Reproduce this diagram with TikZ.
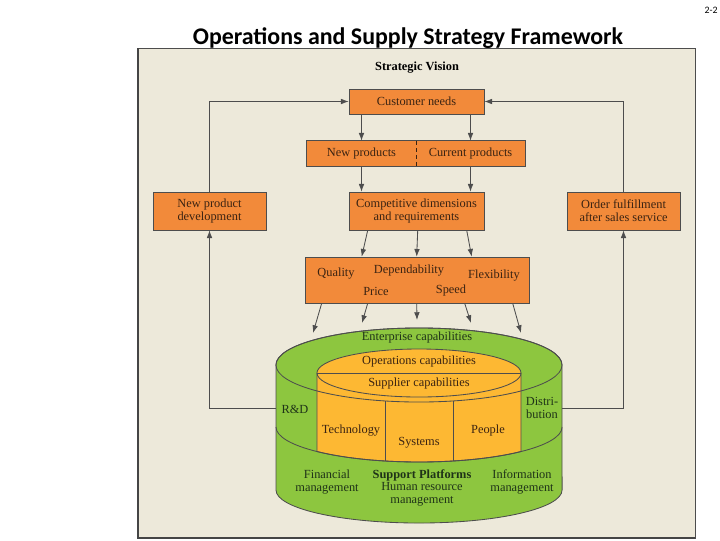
\documentclass[tikz,border=0pt]{standalone}
\usepackage{fontspec}
\setmainfont{Liberation Serif}
\newfontfamily\slidefont{Carlito}
\usepackage{tikz}
\usetikzlibrary{arrows.meta, calc, positioning}

\definecolor{panelbg}{HTML}{EDE9DA}
\definecolor{boxorange}{HTML}{F28A3A}
\definecolor{capyellow}{HTML}{FDB833}
\definecolor{capgreen}{HTML}{8DC63F}
\definecolor{boxtext}{HTML}{3A2312}
\definecolor{greentext}{HTML}{1F3318}
\definecolor{linegray}{HTML}{4D4D4D}

\tikzset{
  box/.style={draw=linegray, fill=boxorange, text=boxtext, align=center, inner sep=0pt,
    font=\fontsize{8.8}{9.3}\selectfont},
  arr/.style={draw=linegray, line width=0.6pt, -{Latex[length=5.5pt,width=4pt]}},
  lbl/.style={align=center, inner sep=0pt, font=\fontsize{8.8}{9.3}\selectfont},
  cyl/.style={draw=linegray, line width=0.6pt}
}

\begin{document}
\begin{tikzpicture}[x=0.025cm, y=-0.025cm]
    \useasboundingbox (0,0) rectangle (720,540);

    % slide title
    \node[font=\slidefont\fontsize{7}{8}\selectfont] (pageno) at (711,10) {2-2};
    \node[font=\slidefont\bfseries\fontsize{17}{20}\selectfont] (title) at (408,38) {Operations and Supply Strategy Framework};

    % panel
    \fill[panelbg] (138,48) rectangle (695,538);
    \draw[linegray, line width=0.6pt] (138,48) rectangle (695,538);
    \draw[linegray!90!black, line width=1.2pt] (138,48) -- (138,538) -- (695,538);
    \node[lbl, font=\fontsize{8.8}{9.3}\selectfont\bfseries] (vision) at (417,68) {Strategic Vision};

    % boxes
    \node[box, minimum width=3.375cm, minimum height=0.625cm] (need) at (416.5,101.5) {Customer needs};
    \node[box, draw=none, minimum width=2.725cm, minimum height=0.625cm] (newp) at (361.5,153.5) {New products};
    \node[box, draw=none, minimum width=2.725cm, minimum height=0.625cm] (curp) at (470.5,153.5) {Current products};
    \draw[linegray] (newp.north west) rectangle (curp.south east);
    \draw[boxtext, dash pattern=on 3pt off 2pt] (newp.north east) -- (newp.south east);
    \node[box, minimum width=3.375cm, minimum height=0.95cm] (comp) at (416.5,211) {Competitive dimensions\\and requirements};
    \node[box, minimum width=2.825cm, minimum height=0.95cm] (npd) at (209.5,211) {New product\\development};
    \node[box, minimum width=2.825cm, minimum height=0.95cm] (ord) at (623.5,211) {Order fulfillment\\after sales service};
    \node[box, minimum width=5.6cm, minimum height=1.15cm] (dims) at (417,280) {};
    \node[lbl, text=boxtext] (quality) at (336,274) {Quality};
    \node[lbl, text=boxtext] (depend) at (409,271) {Dependability};
    \node[lbl, text=boxtext] (flex) at (494,276) {Flexibility};
    \node[lbl, text=boxtext] (price) at (376,291) {Price};
    \node[lbl, text=boxtext] (speed) at (451,291) {Speed};

    % capability cylinder
    \filldraw[cyl, fill=capgreen] (276,365) -- (276,490)
        arc[start angle=180, end angle=360, x radius=3.575cm, y radius=0.825cm] -- (562,365)
        arc[start angle=0, end angle=180, x radius=3.575cm, y radius=0.925cm] -- cycle;
    \filldraw[cyl, fill=capyellow] (521,373)
        arc[start angle=0, end angle=180, x radius=2.55cm, y radius=0.6cm] -- (317,451.5)
        arc[start angle=224.5, end angle=315.5, x radius=3.575cm, y radius=0.875cm] -- cycle;
    \draw[cyl] (317,373) -- (521,373);
    \draw[cyl] (317,373) arc[start angle=180, end angle=360, x radius=2.55cm, y radius=0.6cm];
    \draw[cyl] (419,365) ellipse[x radius=3.575cm, y radius=0.925cm];
    \draw[cyl] (276,427) arc[start angle=180, end angle=360, x radius=3.575cm, y radius=0.875cm];
    \draw[cyl] (385,401) -- (385,461);
    \draw[cyl] (453,401) -- (453,461);

    \node[lbl, text=greentext] (enter) at (417,338) {Enterprise capabilities};
    \node[lbl, text=boxtext] (opcap) at (419,362) {Operations capabilities};
    \node[lbl, text=boxtext] (supcap) at (419,384) {Supplier capabilities};
    \node[lbl, text=greentext] (rnd) at (295,409) {R\&D};
    \node[lbl, text=greentext] (distr) at (542,408) {Distri-\\bution};
    \node[lbl, text=boxtext] (tech) at (351,431) {Technology};
    \node[lbl, text=boxtext] (sys) at (419,443) {Systems};
    \node[lbl, text=boxtext] (people) at (488,431) {People};
    \node[lbl, text=greentext] (fin) at (327,482) {Financial\\management};
    \node[lbl, text=greentext, font=\fontsize{8.8}{9.3}\selectfont\bfseries] (support) at (422,475) {Support Platforms};
    \node[lbl, text=greentext] (hrm) at (422,494.5) {Human resource\\management};
    \node[lbl, text=greentext] (info) at (522,482) {Information\\management};

    % arrow ends on the cylinder
    \coordinate (cap1) at (313,333);
    \coordinate (cap2) at (362,323);
    \coordinate (cap3) at (417,320);
    \coordinate (cap4) at (471,323);
    \coordinate (cap5) at (521,333);
    \coordinate (rdside) at (276,408);
    \coordinate (dbside) at (562,408);

    % connectors
    \draw[arr] (need.south -| newp) -- (newp.north);
    \draw[arr] (need.south -| curp) -- (curp.north);
    \draw[arr] (newp.south) -- (comp.north -| newp);
    \draw[arr] (curp.south) -- (comp.north -| curp);
    \foreach \a/\b in {19/57, 69/112, 118/167}
        \draw[arr] ($(comp.south west)+(\a,0)$) -- ($(dims.north west)+(\b,0)$);
    \foreach \dx/\e in {17/1, 63/2, 112/3, 160/4, 208/5}
        \draw[arr] ($(dims.south west)+(\dx,0)$) -- (cap\e);
    \draw[arr] (rdside) -| (npd.south);
    \draw[arr] (npd.north) |- (need.west);
    \draw[arr] (dbside) -| (ord.south);
    \draw[arr] (ord.north) |- (need.east);
\end{tikzpicture}
\end{document}
